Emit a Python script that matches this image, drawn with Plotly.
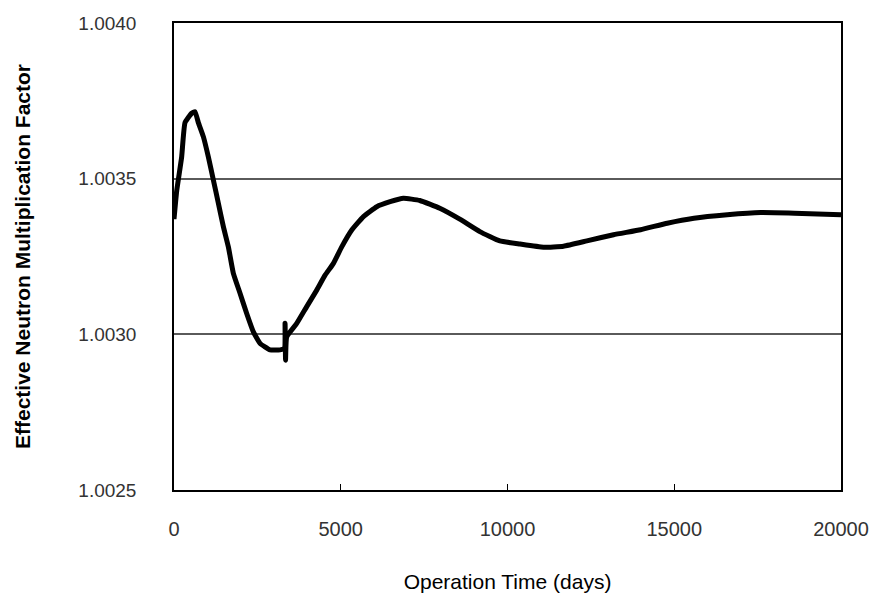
import plotly.graph_objects as go

# Operation time (days) and effective neutron multiplication factor
days = [0, 80, 230, 330, 530, 630, 730, 880, 1030, 1180, 1330, 1480, 1630,
        1780, 1980, 2180, 2380, 2580, 2880, 3180, 3310, 3330, 3345, 3380,
        3680, 3980, 4280, 4530, 4780, 5030, 5330, 5680, 6080, 6480, 6880,
        7370, 7970, 8570, 9170, 9770, 10380, 11080, 11680, 12380, 13180,
        13990, 14790, 15590, 16590, 17590, 18600, 20000]
keff = [1.00337, 1.00346, 1.00357, 1.00368, 1.00371, 1.003715, 1.00368,
        1.003635, 1.00357, 1.003496, 1.003421, 1.003346, 1.003281,
        1.003196, 1.003132, 1.003067, 1.003008, 1.002971, 1.002950,
        1.002950, 1.002955, 1.003036, 1.002917, 1.002992, 1.003035,
        1.003089, 1.003142, 1.003190, 1.003228, 1.003281, 1.003335,
        1.003378, 1.003410, 1.003426, 1.003437, 1.003430, 1.003405,
        1.003370, 1.003330, 1.003300, 1.003290, 1.003280, 1.003283,
        1.003300, 1.003320, 1.003336, 1.003357, 1.003373, 1.003384,
        1.003391, 1.003389, 1.003384]

x_ticks = [0, 5000, 10000, 15000, 20000]
x_tick_text = ["0", "5000", "10000", "15000", "20000"]
y_ticks = [1.0025, 1.0030, 1.0035, 1.0040]
y_tick_text = ["1.0025", "1.0030", "1.0035", "1.0040"]

FONT = "Liberation Sans, Arial, sans-serif"

fig = go.Figure()
fig.add_trace(go.Scatter(
    x=days, y=keff, mode="lines",
    line=dict(color="black", width=5, shape="spline", smoothing=0.4),
    showlegend=False, hoverinfo="skip",
))

fig.update_layout(
    width=875, height=595,
    margin=dict(l=174, r=34, t=23, b=105),
    paper_bgcolor="white", plot_bgcolor="white",
    font=dict(family=FONT, color="#333333", size=19),
)
fig.update_xaxes(
    range=[0, 20000], tickvals=x_ticks, ticktext=x_tick_text,
    automargin=False,
    showgrid=False, zeroline=False,
    showline=True, linecolor="black", linewidth=1.5, mirror=True,
    ticks="inside", ticklen=6, tickcolor="black", tickwidth=1.2,
    ticklabelstandoff=20,
    tickfont=dict(size=20, color="#333333"),
    title=dict(text="Operation Time (days)", standoff=36,
               font=dict(size=21, color="black")),
)
fig.update_yaxes(
    range=[1.0025, 1.0040], tickvals=y_ticks, ticktext=y_tick_text,
    automargin=False,
    showgrid=True, gridcolor="#5a5a5a", gridwidth=1.5, zeroline=False,
    showline=True, linecolor="black", linewidth=1.5, mirror=True,
    ticks="", ticklabelstandoff=32,
    tickfont=dict(size=19, color="#333333"),
    title=dict(text="<b>Effective Neutron Multiplication Factor</b>",
               standoff=42, font=dict(size=21, color="black")),
)

fig.write_html("out.html")
